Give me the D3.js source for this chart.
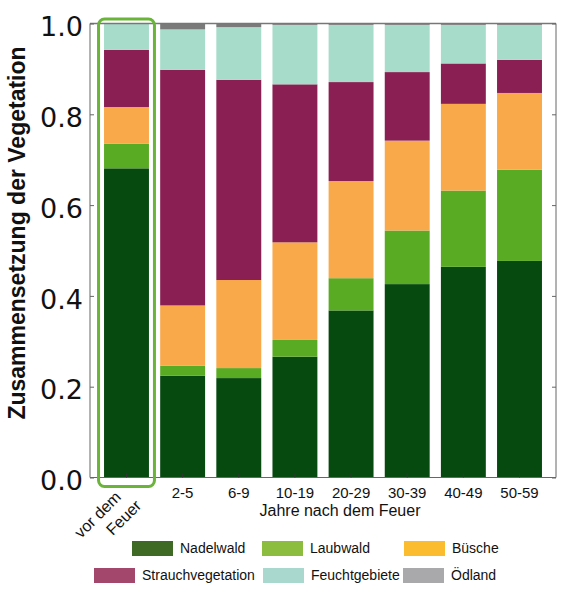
<!DOCTYPE html>
<html>
<head>
<meta charset="utf-8">
<script src="https://cdn.jsdelivr.net/npm/d3@7"></script>
<style>
  body { margin: 0; background: #fff; }
  svg { display: block; }
</style>
</head>
<body>
<svg id="chart" width="572" height="600"></svg>
<script>
let categories = ['vor dem Feuer', '2-5', '6-9', '10-19', '20-29', '30-39', '40-49', '50-59'];
let seriesNames = ['Nadelwald', 'Laubwald', 'Büsche', 'Strauchvegetation', 'Feuchtgebiete', 'Ödland'];

let nadelwald = [0.681, 0.224, 0.219, 0.266, 0.368, 0.426, 0.464, 0.477];
let laubwald = [0.054, 0.022, 0.022, 0.037, 0.071, 0.118, 0.168, 0.201];
let buesche = [0.081, 0.133, 0.194, 0.215, 0.214, 0.198, 0.191, 0.169];
let strauch = [0.126, 0.519, 0.441, 0.348, 0.218, 0.151, 0.089, 0.073];
let feucht = [0.058, 0.089, 0.116, 0.131, 0.126, 0.104, 0.085, 0.077];
let oedland = [0.000, 0.013, 0.008, 0.003, 0.003, 0.003, 0.003, 0.003];

let yTicks = [0, 0.2, 0.4, 0.6, 0.8, 1.0];

let barColors = ['#064a10', '#5aab24', '#f9a84a', '#8a1f53', '#a7dcca', '#7a7a7a'];
let legendColors = ['#3e6a25', '#8dbd3e', '#fbbc2f', '#a3486c', '#a9d8cf', '#a9a9ac'];

let series = [nadelwald, laubwald, buesche, strauch, feucht, oedland];
let rows = categories.map(function(c, i){
    let r = {cat: c};
    seriesNames.forEach(function(s, k){ r[s] = series[k][i]; });
    return r;
});
let stacked = d3.stack().keys(seriesNames)(rows);

let plotLeft = 90, plotRight = 556, plotTop = 23.5, plotBottom = 477.5;
let svg = d3.select('#chart');

let x = d3.scaleBand().domain(categories).range([plotLeft, plotRight]).paddingInner(0.2).paddingOuter(0.25);
let y = d3.scaleLinear().domain([0, 1]).range([plotBottom, plotTop]);

// bars
svg.append('g').selectAll('g')
    .data(stacked)
    .enter().append('g')
    .attr('fill', function(d, i){ return barColors[i]; })
    .selectAll('rect')
    .data(function(d){ return d; })
    .enter().append('rect')
    .attr('x', function(d){ return x(d.data.cat); })
    .attr('width', x.bandwidth())
    .attr('y', function(d){ return y(d[1]); })
    .attr('height', function(d){ return y(d[0]) - y(d[1]); });

// frame
let spine = '#666';
svg.append('line').attr('x1', plotLeft).attr('x2', plotRight).attr('y1', plotTop).attr('y2', plotTop).attr('stroke', '#777').attr('stroke-width', 1.5);
svg.append('line').attr('x1', plotLeft).attr('x2', plotRight).attr('y1', plotBottom).attr('y2', plotBottom).attr('stroke', spine);
svg.append('line').attr('x1', plotLeft).attr('x2', plotLeft).attr('y1', plotTop).attr('y2', plotBottom).attr('stroke', spine);
svg.append('line').attr('x1', plotRight).attr('x2', plotRight).attr('y1', plotTop).attr('y2', plotBottom).attr('stroke', spine);

// y axis: inward ticks both sides
let yAxis = svg.append('g').attr('transform', 'translate(' + plotLeft + ',0)')
    .call(d3.axisRight(y).tickValues(yTicks).tickSize(4).tickFormat(''));
yAxis.select('.domain').remove();
yAxis.selectAll('line').attr('stroke', spine);
let yAxisR = svg.append('g').attr('transform', 'translate(' + plotRight + ',0)')
    .call(d3.axisLeft(y).tickValues(yTicks).tickSize(4).tickFormat(''));
yAxisR.select('.domain').remove();
yAxisR.selectAll('line').attr('stroke', spine);

svg.append('g').selectAll('text')
    .data(yTicks)
    .enter().append('text')
    .attr('x', plotLeft - 7)
    .attr('y', function(d){ return y(d); })
    .attr('dy', '0.47em')
    .attr('text-anchor', 'end')
    .style('font-family', 'DejaVu Sans')
    .style('font-size', '27px')
    .style('fill', '#111')
    .text(function(d){ return d.toFixed(1); });

// x axis ticks (inward)
let xAxis = svg.append('g').attr('transform', 'translate(0,' + plotBottom + ')')
    .call(d3.axisTop(x).tickSize(4).tickFormat(''));
xAxis.select('.domain').remove();
xAxis.selectAll('line').attr('stroke', '#333');

svg.append('g').selectAll('text')
    .data(categories.slice(1))
    .enter().append('text')
    .attr('x', function(d){ return x(d) + x.bandwidth() / 2; })
    .attr('y', 498)
    .attr('text-anchor', 'middle')
    .style('font-family', 'Liberation Sans, Arial, sans-serif')
    .style('font-size', '15px')
    .style('fill', '#111')
    .text(function(d){ return d; });

// rotated first label
let c0 = x(categories[0]) + x.bandwidth() / 2;
let firstLines = [{t: 'vor dem', dx: -29, dy: 37}, {t: 'Feuer', dx: -3, dy: 40}];
svg.append('g').selectAll('text')
    .data(firstLines)
    .enter().append('text')
    .attr('transform', function(d){ return 'translate(' + (c0 + d.dx) + ',' + (plotBottom + d.dy) + ') rotate(-45)'; })
    .attr('text-anchor', 'middle')
    .attr('dy', '0.35em')
    .style('font-family', 'Liberation Sans, Arial, sans-serif')
    .style('font-size', '16px')
    .style('fill', '#111')
    .text(function(d){ return d.t; });

svg.append('text')
    .attr('x', 340)
    .attr('y', 516)
    .attr('text-anchor', 'middle')
    .style('font-family', 'Liberation Sans, Arial, sans-serif')
    .style('font-size', '16px')
    .style('fill', '#111')
    .text('Jahre nach dem Feuer');

svg.append('text')
    .attr('transform', 'translate(25,233) rotate(-90)')
    .attr('text-anchor', 'middle')
    .style('font-family', 'Liberation Sans, Arial, sans-serif')
    .style('font-size', '23px')
    .style('font-weight', 'bold')
    .style('fill', '#111')
    .text('Zusammensetzung der Vegetation');

// highlight box round the first bar
svg.append('rect')
    .attr('x', x(categories[0]) - 5.5)
    .attr('width', x.bandwidth() + 11)
    .attr('y', y(1) - 4.5)
    .attr('height', y(0) - y(1) + 13.5)
    .attr('rx', 6)
    .attr('fill', 'none')
    .attr('stroke', '#6ab43a')
    .attr('stroke-width', 3);

// legend
let legendPos = [
    {sx: 132, y: 541}, {sx: 262, y: 541}, {sx: 404, y: 541},
    {sx: 94, y: 568}, {sx: 263, y: 568}, {sx: 403, y: 568}
];
let legend = svg.append('g').selectAll('g')
    .data(seriesNames)
    .enter().append('g')
    .attr('transform', function(d, i){ return 'translate(' + legendPos[i].sx + ',' + legendPos[i].y + ')'; });
legend.append('rect')
    .attr('width', 41)
    .attr('height', 15)
    .attr('fill', function(d, i){ return legendColors[i]; });
legend.append('text')
    .attr('x', 48)
    .attr('y', 7.5)
    .attr('dy', '0.35em')
    .style('font-family', 'Liberation Sans, Arial, sans-serif')
    .style('font-size', '14px')
    .style('fill', '#111')
    .text(function(d){ return d; });
</script>
</body>
</html>
